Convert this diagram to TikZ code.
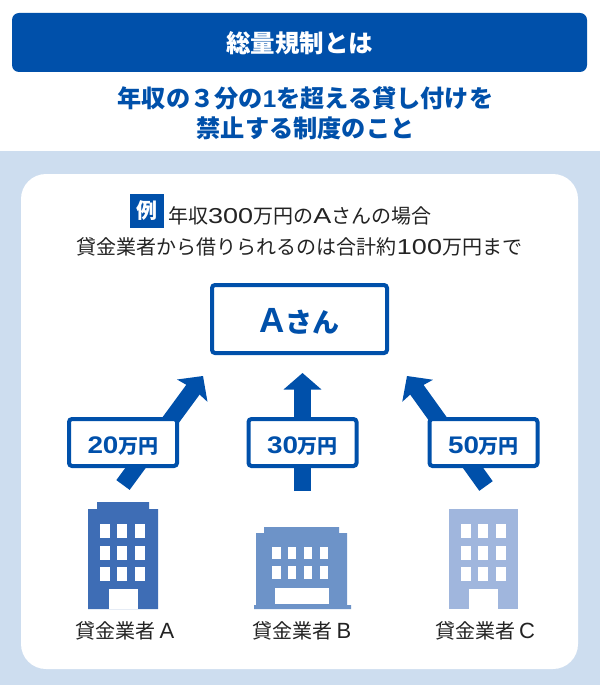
\documentclass[tikz,border=0pt]{standalone}
\usepackage{fontspec}
\usepackage{tikz}
\usetikzlibrary{arrows.meta}
\setmainfont{Noto Sans CJK JP}
\newfontfamily\widefont[FakeStretch=1.25,Scale=1.08]{Liberation Sans}
\newfontfamily\amountfont[FakeStretch=1.16,Scale=1.2]{Liberation Sans}
\newfontfamily\capfont{Liberation Sans}
\newcommand{\wide}[1]{{\widefont #1}}
\newcommand{\amount}[1]{\raisebox{-11pt}[0pt][0pt]{{\amountfont #1}万円}}
\newcommand{\capletter}[2]{{\capfont\fontsize{#1}{#1}\selectfont #2}}
\definecolor{navy}{RGB}{0,80,170}
\definecolor{paleblue}{RGB}{205,221,239}
\definecolor{bldgA}{RGB}{62,109,181}
\definecolor{bldgB}{RGB}{109,147,200}
\definecolor{bldgC}{RGB}{160,182,221}
\definecolor{ink}{RGB}{35,35,35}
\tikzset{
  amountbox/.style={draw=navy, line width=4pt, rounded corners=3pt, fill=white, minimum width=108pt, minimum height=47pt, inner sep=0pt, text=navy, font=\fontsize{20}{20}\bfseries},
  moneyarrow/.style={navy, line width=17.5pt, -{Triangle[length=16.5pt,width=37pt]}},
  moneyarrowslant/.style={navy, line width=16.5pt, -{Stealth[length=18pt,width=37pt,inset=2pt]}},
  lenderlabel/.style={text=ink, inner sep=0pt, font=\fontsize{20}{20}\selectfont},
  bodytext/.style={text=ink, inner sep=0pt, font=\fontsize{20}{20}\selectfont},
  leadtext/.style={text=navy, inner sep=0pt, align=center, font=\fontsize{24.2}{30}\bfseries}
}
\begin{document}
\begin{tikzpicture}[x=1pt,y=-1pt]
    \useasboundingbox (0,0) rectangle (600,687);

    % Background
    \fill[paleblue] (0,151) rectangle (600,685);
    \fill[white, rounded corners=25pt] (21,174) rectangle (578,669);

    % Heading
    \node[fill=navy, rounded corners=7pt, minimum width=575pt, minimum height=59pt, inner sep=0pt, text=white, font=\fontsize{24.5}{24.5}\bfseries] (heading) at (299.5,42.5) {\raisebox{-10pt}[0pt][0pt]{総量規制とは}};
    \node[leadtext] (lead) at (305.5,113) {年収の３分の{\capfont 1}を超える貸し付けを\\禁止する制度のこと};

    % Example text
    \node[fill=navy, minimum width=34pt, minimum height=34pt, inner sep=0pt, text=white, font=\fontsize{21}{21}\bfseries] (rei) at (147,211) {例};
    \node[bodytext, anchor=west] (case) at (168,216) {年収\wide{300}万円の\wide{A}さんの場合};
    \node[bodytext] (limit) at (299.5,247) {貸金業者から借りられるのは合計約\wide{100}万円まで};

    % Borrower
    \node[draw=navy, line width=4pt, rounded corners=3pt, fill=white, minimum width=175pt, minimum height=68pt, inner sep=0pt, text=navy, font=\fontsize{27}{27}\bfseries] (borrower) at (299.5,319) {\raisebox{-13.5pt}[0pt][0pt]{\capletter{35}{A}さん}};

    % Arrows
    \coordinate (tailA) at (123,485);
    \coordinate (tipA) at (203,376);
    \coordinate (tailB) at (302.5,491);
    \coordinate (tipB) at (302.5,373);
    \coordinate (tailC) at (486,486);
    \coordinate (tipC) at (407,376);
    \draw[moneyarrowslant] (tailA) -- (tipA);
    \draw[moneyarrow] (tailB) -- (tipB);
    \draw[moneyarrowslant] (tailC) -- (tipC);

    % Amounts
    \node[amountbox] (amountA) at (123,442.5) {\amount{20}};
    \node[amountbox] (amountB) at (302.5,442.5) {\amount{30}};
    \node[amountbox] (amountC) at (483.5,442.5) {\amount{50}};

    % Lender A
    \fill[bldgA] (88,609) -- (88,509) -- (97,509) -- (97,502) -- (149,502) -- (149,509) -- (158,509) -- (158,609) -- cycle;
    \fill[white] (109,609) rectangle (138,589);
    \foreach \x in {100.3,117,135.3}
        \foreach \y in {524.3,545.7,566.7}
            \fill[white] (\x,\y) rectangle ++(9.6,14);

    % Lender B
    \fill[bldgB] (254,609) -- (254,605) -- (256,605) -- (256,533) -- (264,533) -- (264,527) -- (339,527) -- (339,533) -- (347,533) -- (347,605) -- (351,605) -- (351,609) -- cycle;
    \fill[white] (274.7,588.3) rectangle (328.7,604);
    \foreach \x in {272.3,288,303.7,319.7}
        \foreach \y in {546.7,566}
            \fill[white] (\x,\y) rectangle ++(8.4,12.7);

    % Lender C
    \fill[bldgC] (449,509) rectangle (518,609);
    \fill[white] (469.3,609) rectangle (497.7,588.7);
    \foreach \x in {461,478.3,496}
        \foreach \y in {524.3,545.7,566.7}
            \fill[white] (\x,\y) rectangle ++(9.6,14);

    % Labels
    \node[lenderlabel] (lenderA) at (125,631) {貸金業者\kern4pt\capletter{22}{A}};
    \node[lenderlabel] (lenderB) at (302,631) {貸金業者\kern4pt\capletter{22}{B}};
    \node[lenderlabel] (lenderC) at (485,631) {貸金業者\kern4pt\capletter{22}{C}};
\end{tikzpicture}
\end{document}
